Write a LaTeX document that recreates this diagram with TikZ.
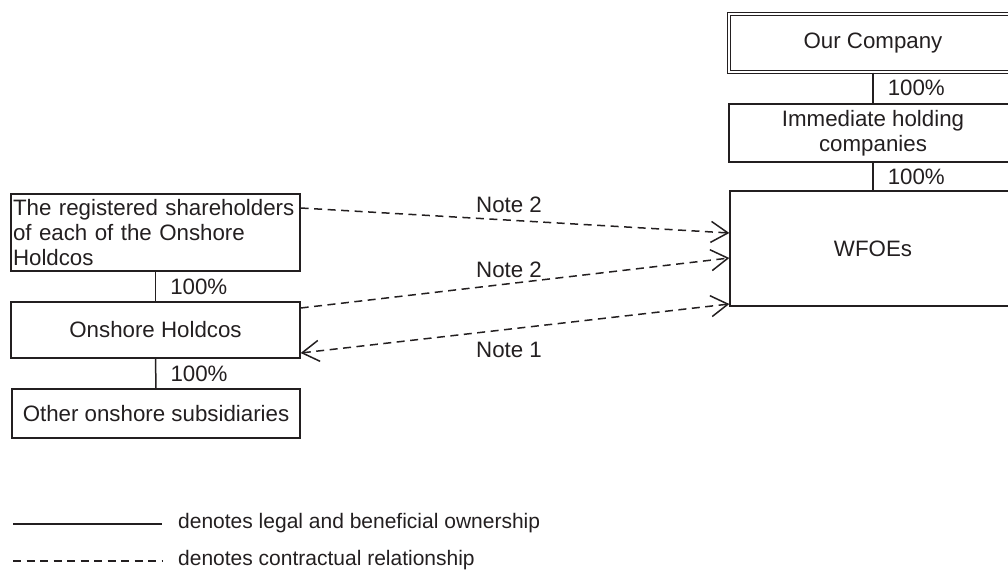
\documentclass[tikz,border=0pt]{standalone}
\usepackage{fontspec}
\setmainfont{Liberation Sans}
\usetikzlibrary{arrows.meta}
\definecolor{ink}{HTML}{231F20}
\begin{document}
\begin{tikzpicture}[x=1pt,y=-1pt,
  every node/.style={text=ink,font=\fontsize{22.3}{25}\selectfont},
  box/.style={draw=ink,line width=1.3pt,rectangle,inner sep=0pt,align=center},
  own/.style={draw=ink,line width=1.5pt},
  contract/.style={draw=ink,line width=1.5pt,dash pattern=on 8pt off 5.5pt},
  barb/.tip={Straight Barb[length=17pt,width=21pt,line width=1.5pt]},
  tip/.style={-barb},
  tips/.style={barb-barb},
  pct/.style={anchor=west,inner sep=0pt},
  note/.style={inner sep=0pt},
  legend/.style={anchor=west,inner sep=0pt,font=\fontsize{21}{24}\selectfont}]
\useasboundingbox (0,0) rectangle (1008,570);
% right column
\node[box,double,double distance=2pt,minimum width=288pt,minimum height=58pt] (ourco) at (873,43) {Our Company};
\node[box,minimum width=288pt,minimum height=58pt] (imm) at (873,133) {Immediate holding\\companies};
\node[box,minimum width=286pt,minimum height=115pt] (wfoe) at (873,248.5) {WFOEs};
\draw[own] (ourco.south) -- (imm.north) node[pct,midway,xshift=14pt] (p1) {100\%};
\draw[own] (imm.south) -- (wfoe.north) node[pct,midway,xshift=14pt] (p2) {100\%};
% left column
\node[box,minimum width=289pt,minimum height=77pt,align=left,text width=285pt] (reg) at (155.5,232.5) {The registered shareholders\\of each of the Onshore\\Holdcos};
\node[box,minimum width=289pt,minimum height=56pt] (onh) at (155.5,330) {Onshore Holdcos};
\node[box,minimum width=288pt,minimum height=49pt] (oth) at (156,413.5) {Other onshore subsidiaries};
\draw[own] (reg.south) -- (onh.north) node[pct,midway,xshift=14pt] (p3) {100\%};
\draw[own] (onh.south) -- (oth.north) node[pct,midway,xshift=14pt] (p4) {100\%};
% contractual arrows
\coordinate (a1s) at (reg.east |- 0,208);
\coordinate (a1e) at (wfoe.west |- 0,233);
\coordinate (a2s) at (onh.east |- 0,308);
\coordinate (a2e) at (wfoe.west |- 0,258);
\coordinate (a3s) at (onh.east |- 0,353);
\coordinate (a3e) at (wfoe.west |- 0,304);
\draw[contract,tip] (a1s) -- (a1e);
\draw[contract,tip] (a2s) -- (a2e);
\draw[contract,tips] (a3s) -- (a3e);
\node[note] (n1) at (509,205) {Note 2};
\node[note] (n2) at (509,269.5) {Note 2};
\node[note] (n3) at (509,349.5) {Note 1};
% legend
\coordinate (l1a) at (13,524);
\coordinate (l1b) at (162,524);
\coordinate (l2a) at (13,561);
\coordinate (l2b) at (162,561);
\draw[own] (l1a) -- (l1b);
\draw[contract] (l2a) -- (l2b);
\node[legend] (t1) at (178,523) {denotes legal and beneficial ownership};
\node[legend] (t2) at (178,560) {denotes contractual relationship};
\end{tikzpicture}
\end{document}
